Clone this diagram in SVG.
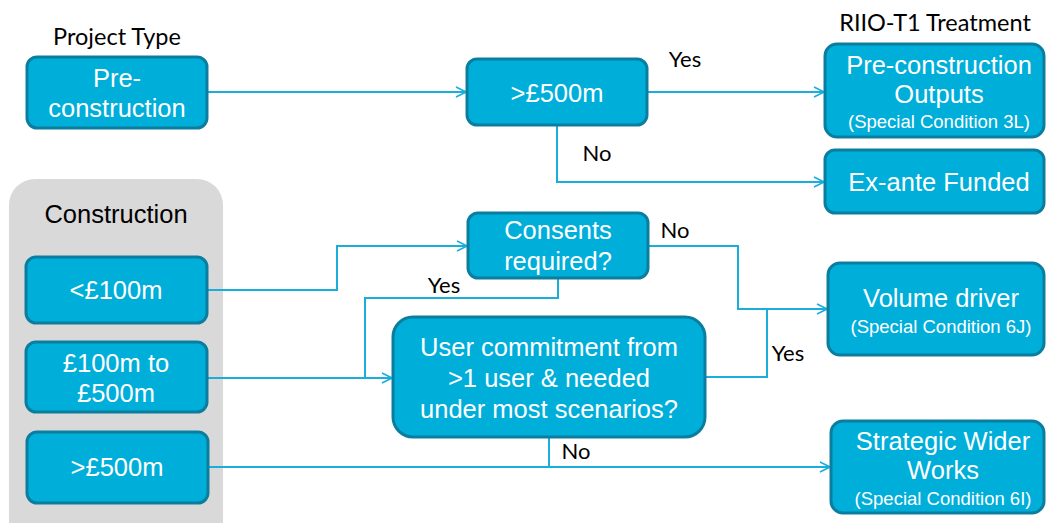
<svg xmlns="http://www.w3.org/2000/svg" width="1046" height="523" viewBox="0 0 1046 523">
<defs>
<marker id="arr" viewBox="0 0 12 12" refX="11" refY="6" markerWidth="12" markerHeight="12" markerUnits="userSpaceOnUse" orient="auto">
<path d="M1,1 L11,6 L1,11" fill="none" stroke="#1AAFDB" stroke-width="1.6"/>
</marker>
<style>
.box{fill:#00AEDA;stroke:#0B7EA0;stroke-width:3}
.t{font-family:"Liberation Sans",Arial,sans-serif;fill:#fff;text-anchor:middle;font-size:25.5px}
.s{font-family:"Liberation Sans",Arial,sans-serif;fill:#fff;text-anchor:middle;font-size:18.5px}
.h{font-family:Lato,"Open Sans",sans-serif;fill:#000;text-anchor:middle;font-size:23.5px}
.lbl{font-family:Lato,"Open Sans",sans-serif;fill:#000;text-anchor:middle;font-size:22px}
.c{fill:none;stroke:#1AAFDB;stroke-width:2}
</style>
</defs>
<rect width="1046" height="523" fill="#fff"/>

<text class="h" x="117" y="45">Project Type</text>
<text class="h" x="935" y="31">RIIO-T1 Treatment</text>

<g id="construction-group">
<rect x="9" y="179" width="214" height="370" rx="26" fill="#D9D9D9"/>
<text x="116" y="223" font-family="Liberation Sans,Arial,sans-serif" font-size="25.5" text-anchor="middle" fill="#000">Construction</text>
</g>

<g id="connectors">
<path class="c" d="M207,92 H466" marker-end="url(#arr)"/>
<path class="c" d="M647,92 H824" marker-end="url(#arr)"/>
<path class="c" d="M557,125 V182 H824" marker-end="url(#arr)"/>
<path class="c" d="M207,290 H337 V246 H467" marker-end="url(#arr)"/>
<path class="c" d="M648,246 H738 V309 H827" marker-end="url(#arr)"/>
<path class="c" d="M558,278 V298 H365 V377"/>
<path class="c" d="M207,378 H392" marker-end="url(#arr)"/>
<path class="c" d="M705,377 H767 V309"/>
<path class="c" d="M208,467 H830" marker-end="url(#arr)"/>
<path class="c" d="M549,437 V467"/>
<text class="lbl" x="685" y="67">Yes</text>
<text class="lbl" x="597" y="161">No</text>
<text class="lbl" x="675" y="238">No</text>
<text class="lbl" x="444" y="293">Yes</text>
<text class="lbl" x="788" y="361">Yes</text>
<text class="lbl" x="576" y="459">No</text>
</g>

<g id="n-preconstruction">
<rect class="box" x="27" y="57" width="180" height="71" rx="10"/>
<text class="t" x="117" y="87">Pre-</text>
<text class="t" x="117" y="117">construction</text>
</g>

<g id="n-gt500-pre">
<rect class="box" x="467" y="59" width="180" height="66" rx="10"/>
<text class="t" x="557" y="102">&gt;£500m</text>
</g>

<g id="n-preconstruction-outputs">
<rect class="box" x="825" y="44" width="219" height="93" rx="12"/>
<text class="t" x="939" y="74">Pre-construction</text>
<text class="t" x="939" y="103">Outputs</text>
<text class="s" x="939" y="128">(Special Condition 3L)</text>
</g>

<g id="n-exante">
<rect class="box" x="825" y="150" width="219" height="63" rx="10"/>
<text class="t" x="939" y="191">Ex-ante Funded</text>
</g>

<g id="n-lt100">
<rect class="box" x="26" y="257" width="181" height="66" rx="10"/>
<text class="t" x="116" y="299">&lt;£100m</text>
</g>

<g id="n-100to500">
<rect class="box" x="26" y="342" width="181" height="70" rx="10"/>
<text class="t" x="116" y="372">£100m to</text>
<text class="t" x="116" y="402">£500m</text>
</g>

<g id="n-gt500">
<rect class="box" x="27" y="432" width="181" height="71" rx="10"/>
<text class="t" x="117" y="476">&gt;£500m</text>
</g>

<g id="n-consents">
<rect class="box" x="468" y="213" width="180" height="65" rx="10"/>
<text class="t" x="558" y="239">Consents</text>
<text class="t" x="558" y="270">required?</text>
</g>

<g id="n-user-commitment">
<rect class="box" x="393" y="317" width="312" height="120" rx="20"/>
<text class="t" x="549" y="356">User commitment from</text>
<text class="t" x="549" y="387">&gt;1 user &amp; needed</text>
<text class="t" x="549" y="418">under most scenarios?</text>
</g>

<g id="n-volume-driver">
<rect class="box" x="828" y="263" width="216" height="92" rx="12"/>
<text class="t" x="941" y="307">Volume driver</text>
<text class="s" x="941" y="333">(Special Condition 6J)</text>
</g>

<g id="n-sww">
<rect class="box" x="831" y="421" width="213" height="92" rx="12"/>
<text class="t" x="943" y="450">Strategic Wider</text>
<text class="t" x="943" y="479">Works</text>
<text class="s" x="943" y="505">(Special Condition 6I)</text>
</g>
</svg>
